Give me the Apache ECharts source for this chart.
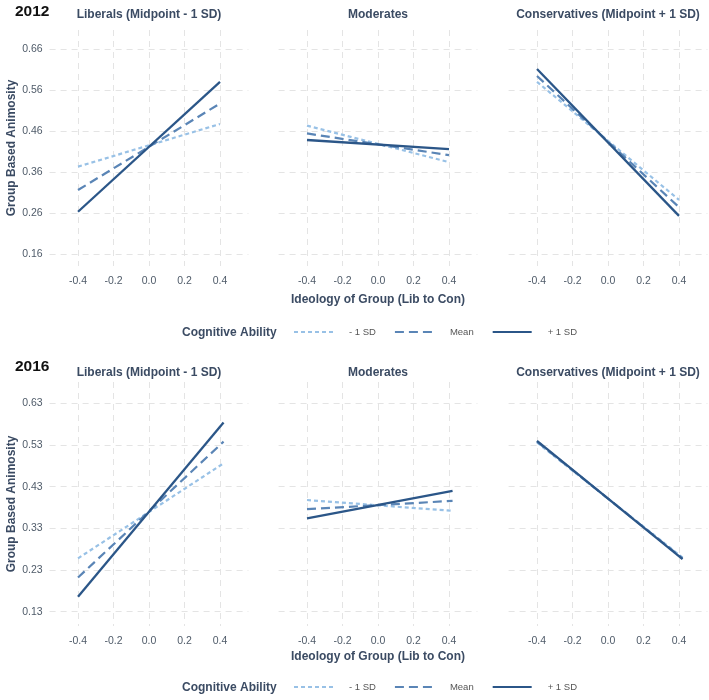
<!DOCTYPE html>
<html>
<head>
<meta charset="utf-8">
<script src="https://cdn.jsdelivr.net/npm/echarts@6/dist/echarts.min.js"></script>
<style>
  html, body { margin: 0; padding: 0; background: #fff; }
  #chart { width: 709px; height: 700px; }
</style>
</head>
<body>
<div id="chart"></div>
<script>
// panels and legend levels
const years = ['2012', '2016']
const panels = ['Liberals (Midpoint - 1 SD)', 'Moderates', 'Conservatives (Midpoint + 1 SD)']
const levels = ['- 1 SD', 'Mean', '+ 1 SD']

// x range of the fitted lines, per year
const xEnds2012 = [-0.4, 0.4]
const xEnds2016 = [-0.4, 0.42]

// [start, end] of each line, per panel (Liberals, Moderates, Conservatives)
const low2012 = [[0.373, 0.477], [0.473, 0.384], [0.580, 0.292]]
const mean2012 = [[0.316, 0.527], [0.454, 0.401], [0.594, 0.274]]
const high2012 = [[0.263, 0.580], [0.438, 0.416], [0.611, 0.253]]

const low2016 = [[0.258, 0.486], [0.398, 0.372], [0.536, 0.260]]
const mean2016 = [[0.212, 0.538], [0.376, 0.396], [0.538, 0.258]]
const high2016 = [[0.166, 0.584], [0.354, 0.420], [0.540, 0.256]]

// tick labels
const xTicks = [-0.4, -0.2, 0, 0.2, 0.4]
const yTicks2012 = [0.16, 0.26, 0.36, 0.46, 0.56, 0.66]
const yTicks2016 = [0.13, 0.23, 0.33, 0.43, 0.53, 0.63]

const chart = echarts.init(document.getElementById('chart'))

const FONT = 'Liberation Sans, Arial, sans-serif'
const titleColor = '#3b4b63'
const tickColor = '#4f5b69'
const gridColor = '#e4e4e4'
const lineColors = ['#98c1e6', '#5a85b6', '#2b5688']
const lineTypes = [[4, 3], [9, 5], 'solid']
const lineWidths = [2.2, 2.2, 2.3]

const centers = [149, 378, 608]
const halfWidth = 99.4
const yearLayout = [
  { top: 30, height: 236, yMin: 0.1307, yMax: 0.7063, yTicks: yTicks2012, ends: xEnds2012,
    data: [low2012, mean2012, high2012], yearY: 12, stripY: 15, legendTop: 327, legendY: 333, nameGap: 28 },
  { top: 382, height: 244, yMin: 0.0957, yMax: 0.6812, yTicks: yTicks2016, ends: xEnds2016,
    data: [low2016, mean2016, high2016], yearY: 367, stripY: 373, legendTop: 682, legendY: 688, nameGap: 25 }
]

const grids = []
const xAxes = []
const yAxes = []
const series = []
const graphics = []
const legends = []

yearLayout.forEach((yl, yi) => {
  graphics.push({
    type: 'text', x: 15, y: yl.yearY,
    style: { text: years[yi], fill: '#111', font: 'bold 15.5px ' + FONT, verticalAlign: 'middle' }
  })
  panels.forEach((p, pi) => {
    const idx = yi * 3 + pi
    grids.push({ left: centers[pi] - halfWidth, top: yl.top, width: halfWidth * 2, height: yl.height })
    graphics.push({
      type: 'text', x: centers[pi], y: yl.stripY,
      style: { text: p, fill: titleColor, font: 'bold 12px ' + FONT, align: 'center', verticalAlign: 'middle' }
    })
    xAxes.push({
      type: 'value', gridIndex: idx, min: -0.56, max: 0.56,
      name: pi === 1 ? 'Ideology of Group (Lib to Con)' : '',
      nameLocation: 'middle', nameGap: yl.nameGap,
      nameTextStyle: { fontFamily: FONT, fontWeight: 'bold', fontSize: 12, color: titleColor },
      axisLine: { show: false },
      axisTick: { show: false, customValues: xTicks },
      axisLabel: {
        customValues: xTicks, margin: 10, fontFamily: FONT, fontSize: 10.5, color: tickColor,
        formatter: v => v.toFixed(1)
      },
      splitLine: { show: true, lineStyle: { color: gridColor, type: [6, 5], width: 1 } }
    })
    yAxes.push({
      type: 'value', gridIndex: idx, min: yl.yMin, max: yl.yMax,
      name: pi === 0 ? 'Group Based Animosity' : '',
      nameLocation: 'middle', nameGap: 32,
      nameTextStyle: { fontFamily: FONT, fontWeight: 'bold', fontSize: 12, color: titleColor },
      axisLine: { show: false },
      axisTick: { show: false, customValues: yl.yTicks },
      axisLabel: {
        show: pi === 0, customValues: yl.yTicks, margin: 7, fontFamily: FONT, fontSize: 10.5, color: tickColor,
        formatter: v => v.toFixed(2)
      },
      splitLine: { show: true, lineStyle: { color: gridColor, type: [6, 5], width: 1 } }
    })
    levels.forEach((lv, li) => {
      const seg = yl.data[li][pi]
      series.push({
        type: 'line', name: lv, xAxisIndex: idx, yAxisIndex: idx,
        data: [[yl.ends[0], seg[0]], [yl.ends[1], seg[1]]],
        showSymbol: false, symbol: 'none', silent: true, animation: false,
        lineStyle: { color: lineColors[li], type: lineTypes[li], width: lineWidths[li] },
        itemStyle: { color: lineColors[li] },
        z: 2 + li
      })
    })
  })
  graphics.push({
    type: 'text', x: 182, y: yl.legendY,
    style: { text: 'Cognitive Ability', fill: titleColor, font: 'bold 12px ' + FONT, verticalAlign: 'middle' }
  })
  legends.push({
    data: levels, left: 293, top: yl.legendTop, padding: 0,
    itemWidth: 39, itemHeight: 12, itemGap: 18,
    selectedMode: false,
    itemStyle: { opacity: 0 },
    textStyle: { fontFamily: FONT, fontSize: 9.5, color: '#555', padding: [0, 0, 0, 11] }
  })
})

chart.setOption({
  backgroundColor: '#fff',
  animation: false,
  legend: legends,
  grid: grids,
  xAxis: xAxes,
  yAxis: yAxes,
  series: series,
  graphic: graphics
})
</script>
</body>
</html>
